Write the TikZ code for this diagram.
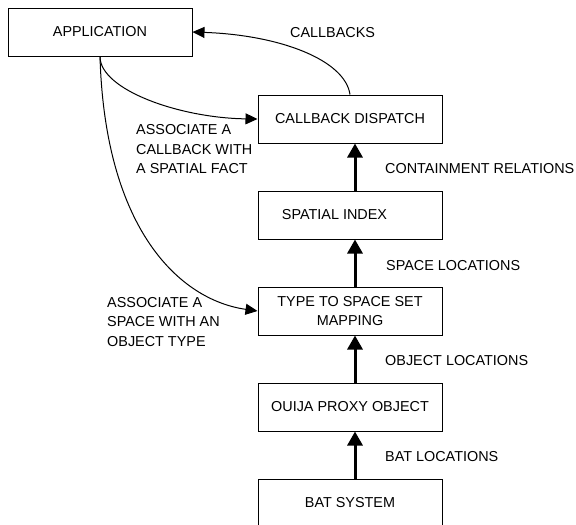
\documentclass[tikz,border=0pt]{standalone}
\usepackage{fontspec}
\setmainfont{Liberation Sans}
\usetikzlibrary{arrows.meta}
\begin{document}
\begin{tikzpicture}[x=1pt,y=-1pt,
  box/.style={draw=black,line width=1pt,minimum width=184pt,minimum height=48pt,inner sep=0pt,align=center,font=\fontsize{14.4}{19.3}\selectfont},
  lbl/.style={anchor=base west,inner sep=0pt,align=left,font=\fontsize{14.4}{19.2}\selectfont},
  flow/.style={line width=3pt,-{Triangle[length=14pt,width=15pt]}},
  thin/.style={line width=1pt,-{Triangle[length=12pt,width=11pt]}}]
\useasboundingbox (0,0) rectangle (576,525);
\node[box] (app) at (100,32) {APPLICATION};
\node[box] (disp) at (350,119) {CALLBACK DISPATCH};
\node[box] (sidx) at (350,215) {SPATIAL INDEX\hspace*{31pt}};
\node[box] (type) at (350,311) {TYPE TO SPACE SET\\MAPPING};
\node[box] (ouija) at (350,407) {OUIJA PROXY OBJECT};
\node[box] (bat) at (350,503) {BAT SYSTEM};
\draw[flow] ([xshift=5pt]bat.north) -- ([xshift=5pt]ouija.south);
\draw[flow] ([xshift=5pt]ouija.north) -- ([xshift=5pt]type.south);
\draw[flow] ([xshift=5pt]type.north) -- ([xshift=5pt]sidx.south);
\draw[flow] ([xshift=5pt]sidx.north) -- ([xshift=5pt]disp.south);
\draw[thin] (disp.north) .. controls (345,60) and (280,35) .. (app.east);
\draw[thin] (app.south) .. controls (100,90) and (180,118) .. (disp.west);
\draw[thin] (app.south) .. controls (105,230) and (180,300) .. (type.west);
\node[lbl] (l1) at (290,37.3) {CALLBACKS};
\node[lbl] (l2) at (385,173.3) {CONTAINMENT RELATIONS};
\node[lbl] (l3) at (386,270) {SPACE LOCATIONS};
\node[lbl] (l4) at (385,365) {OBJECT LOCATIONS};
\node[lbl] (l5) at (385,461) {BAT LOCATIONS};
\node[lbl] (l6) at (136,173.3) {ASSOCIATE A\\CALLBACK WITH\\A SPATIAL FACT};
\node[lbl] (l7) at (107,346) {ASSOCIATE A\\SPACE WITH AN\\OBJECT TYPE};
\end{tikzpicture}
\end{document}
